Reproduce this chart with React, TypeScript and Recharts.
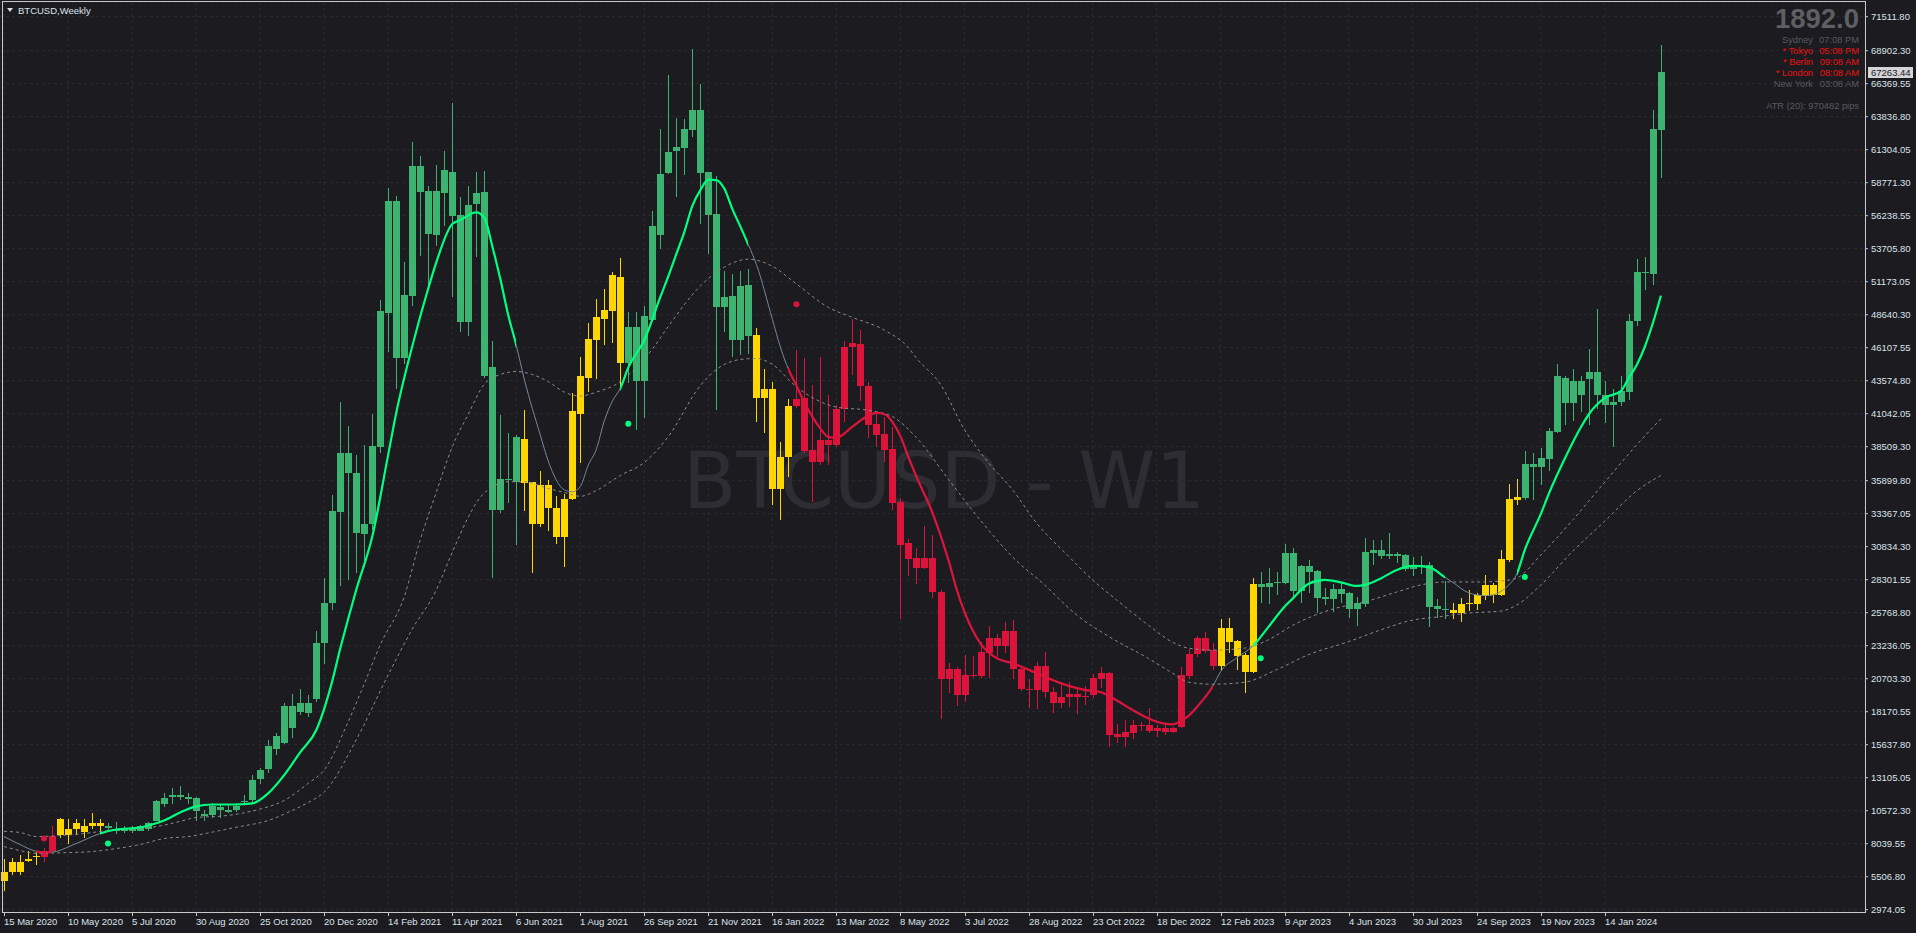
import React from "react";
import { ComposedChart, Bar, Line, XAxis, YAxis, CartesianGrid, ReferenceLine } from "recharts";

const W = 1916;
const H = 933;

const dateLabels = [
  "15 Mar 2020", "10 May 2020", "5 Jul 2020", "30 Aug 2020", "25 Oct 2020", "20 Dec 2020",
  "14 Feb 2021", "11 Apr 2021", "6 Jun 2021", "1 Aug 2021", "26 Sep 2021", "21 Nov 2021",
  "16 Jan 2022", "13 Mar 2022", "8 May 2022", "3 Jul 2022", "28 Aug 2022", "23 Oct 2022",
  "18 Dec 2022", "12 Feb 2023", "9 Apr 2023", "4 Jun 2023", "30 Jul 2023", "24 Sep 2023",
  "19 Nov 2023", "14 Jan 2024",
];
const weeksPerLabel = 8;

const priceTicks = [
  2974.05, 5506.8, 8039.55, 10572.3, 13105.05, 15637.8, 18170.55, 20703.3, 23236.05, 25768.8,
  28301.55, 30834.3, 33367.05, 35899.8, 38509.3, 41042.05, 43574.8, 46107.55, 48640.3, 51173.05,
  53705.8, 56238.55, 58771.3, 61304.05, 63836.8, 66369.55, 68902.3, 71511.8,
];
const priceDomain = [2797.5, 72640];

// weekly candles, 15 Mar 2020 .. 3 Mar 2024
const opens = [
  5150, 5900, 6650, 6680, 7100, 7050, 7510, 8740, 9200, 9130,
  9430, 9360, 9660, 9360, 9200, 9000, 9280, 9050, 9140, 9820,
  11060, 11590, 11800, 11650, 11580, 10200, 10210, 10820, 10440, 10590,
  11250, 11360, 12970, 13740, 15280, 15750, 18590, 18130, 18800, 19130,
  23430, 26500, 33510, 38050, 36510, 31820, 32590, 38510, 48740, 57360,
  45280, 50050, 60050, 58130, 54740, 57970, 59590, 56280, 48050, 57130,
  58050, 44660, 33670, 36050, 35820, 39130, 35820, 32590, 35590, 33820,
  31590, 34510, 41050, 43820, 46670, 48280, 48900, 51510, 44970, 47660,
  43590, 48200, 54740, 59510, 61200, 61430, 62820, 64360, 59590, 56360,
  49200, 50050, 46670, 50900, 47050, 42280, 42970, 35280, 37740, 41660,
  42280, 38280, 37360, 39050, 38670, 41440, 46130, 46360, 43130, 40280,
  39510, 38360, 34280, 31130, 29970, 29200, 29970, 27360, 20670, 21430,
  19430, 20970, 20900, 22670, 23820, 23200, 24360, 21430, 19900, 19820,
  21670, 19670, 18820, 19280, 19510, 19280, 19430, 20670, 21130, 16430,
  16200, 16510, 17130, 17130, 16670, 16900, 16600, 16970, 20900, 22590,
  23820, 22900, 21670, 24590, 23590, 22510, 21200, 27970, 27740, 28050,
  28050, 30360, 27430, 29360, 28970, 26970, 26820, 27590, 27280, 26050,
  26430, 30360, 30590, 30130, 30280, 30200, 29130, 29280, 29430, 26280,
  26050, 25970, 25740, 26430, 26430, 27050, 27900, 27130, 29820, 34430,
  34590, 37200, 36970, 37590, 39670, 43820, 41900, 43590, 43670, 44280,
  42510, 41740, 41970, 42740, 48130, 51900, 51740, 62820,
];
const highs = [
  6900, 6970, 7200, 7510, 7510, 7740, 9430, 10050, 9900, 9970,
  9900, 10360, 9970, 9590, 9740, 9430, 9430, 9510, 9740, 11430,
  11900, 12280, 12430, 11900, 11600, 10600, 11130, 11050, 11050, 11130,
  11740, 13280, 13820, 15970, 16510, 18820, 19510, 19900, 19430, 24360,
  28430, 34820, 41970, 40130, 37900, 38670, 41050, 49740, 58360, 57750,
  52660, 61900, 60820, 58510, 60130, 61200, 64900, 57660, 58510, 59590,
  59660, 46660, 40970, 39590, 39430, 41360, 35820, 36660, 35970, 34740,
  34900, 42660, 45360, 47970, 49820, 50590, 51900, 52970, 48820, 48820,
  49280, 56590, 62900, 67050, 63740, 63670, 69050, 66360, 59590, 59280,
  51970, 51740, 51970, 52130, 47590, 44510, 43510, 38900, 42200, 45900,
  45280, 43280, 45360, 42440, 41700, 46590, 48280, 47430, 43510, 41200,
  40820, 40050, 34590, 31430, 30740, 32430, 31740, 27510, 21900, 21590,
  22510, 22430, 23510, 24740, 24130, 25050, 25200, 21590, 20670, 21970,
  22740, 20050, 20430, 20430, 19970, 20130, 21050, 21590, 21200, 17200,
  17510, 17510, 17360, 18430, 17130, 17130, 16970, 21590, 22970, 23970,
  24280, 23430, 25280, 25360, 23670, 22670, 28430, 28900, 29200, 28900,
  31050, 30740, 29430, 29820, 29050, 27660, 27970, 28050, 27360, 26970,
  31510, 31360, 31360, 31900, 30450, 30300, 30050, 30150, 29660, 26850,
  28200, 26510, 26900, 27510, 27250, 28660, 28050, 30590, 35660, 36050,
  38200, 38050, 38430, 39970, 44820, 43970, 44510, 43900, 45970, 49050,
  43590, 42900, 43900, 48660, 52900, 53050, 64360, 69360,
];
const lows = [
  4400, 5600, 5670, 6650, 6440, 6670, 7500, 8510, 8050, 8670,
  8510, 9130, 8820, 8970, 8820, 8850, 8880, 9000, 9050, 9760,
  10820, 11050, 11430, 11080, 9750, 9820, 9980, 10050, 10360, 10510,
  10980, 11200, 12590, 13430, 14820, 15670, 16130, 17900, 17740, 18900,
  21820, 26000, 27800, 28300, 28820, 29300, 32100, 38050, 45740, 42900,
  44820, 49280, 53130, 50590, 53900, 55430, 49970, 47280, 46970, 53050,
  43820, 28430, 33440, 34200, 30970, 33590, 28820, 32360, 32050, 31050,
  29280, 34400, 37280, 42740, 43670, 46280, 46500, 43050, 43430, 39820,
  40740, 48130, 53670, 59430, 57670, 59360, 62280, 55590, 53280, 41360,
  47280, 45430, 45510, 45590, 40430, 39590, 34050, 32900, 36200, 41510,
  38050, 34280, 37130, 37130, 38510, 40430, 44000, 42050, 39200, 38510,
  37360, 33670, 25280, 28590, 27970, 29130, 26900, 17590, 19590, 18590,
  18900, 20740, 20740, 20740, 22360, 22670, 20670, 19750, 18430, 18360,
  19200, 18050, 18430, 18510, 17970, 18670, 19200, 19970, 15430, 15740,
  15430, 16050, 16670, 16510, 16230, 16360, 16550, 16900, 20660, 22360,
  22670, 21360, 21280, 22670, 21360, 19590, 21130, 26510, 26430, 27130,
  28000, 26970, 26510, 27280, 25740, 26360, 25820, 26510, 25360, 24740,
  26200, 29430, 29900, 29900, 29600, 28950, 28600, 28750, 24670, 25350,
  25280, 25280, 25050, 25900, 26000, 26740, 26510, 27050, 29660, 34050,
  34430, 34430, 35590, 36660, 39590, 40200, 40510, 41200, 40200, 41430,
  40360, 38510, 41670, 42130, 47740, 50510, 50900, 59130,
];
const closes = [
  5900, 6650, 5880, 6900, 7130, 7510, 8660, 9970, 8670, 9660,
  8900, 9660, 9360, 9210, 9000, 9150, 8980, 9360, 9590, 11350,
  11580, 11740, 11600, 11440, 10520, 10350, 10970, 10600, 10660, 10970,
  11300, 12900, 13660, 15510, 16280, 18590, 16900, 18820, 18060, 23430,
  26500, 33590, 38050, 36510, 31900, 32590, 38590, 48900, 57360, 45280,
  50130, 60050, 58050, 54820, 58130, 59740, 56200, 48050, 57050, 57970,
  43970, 33670, 36050, 36000, 39280, 35740, 32590, 35590, 33820, 31590,
  34510, 41280, 43900, 46740, 48430, 48970, 51660, 44970, 47660, 43590,
  48510, 55430, 59430, 61130, 61510, 62900, 64360, 59510, 56280, 49200,
  49970, 46670, 50820, 46970, 42280, 42970, 35280, 37740, 41660, 42200,
  38200, 37360, 39050, 38670, 41440, 46130, 46430, 43130, 40200, 39430,
  38280, 34200, 30970, 29900, 29200, 29970, 27360, 20670, 21430, 19430,
  20970, 20950, 22740, 23820, 23200, 24360, 21430, 19900, 19820, 21670,
  19670, 18820, 19280, 19510, 19280, 19360, 20740, 21130, 16360, 16200,
  16590, 17130, 17050, 16670, 16900, 16600, 16900, 20970, 22590, 23820,
  22820, 21670, 24590, 23510, 22430, 21200, 27970, 27740, 28050, 28130,
  30360, 27430, 29360, 28900, 26900, 26820, 27590, 27200, 26050, 26510,
  30430, 30590, 30130, 30280, 30130, 29130, 29280, 29430, 26200, 26050,
  25970, 25740, 26430, 26510, 27130, 27900, 27130, 29900, 34510, 34670,
  37200, 36970, 37670, 39740, 43900, 41900, 43590, 42510, 44280, 42510,
  41740, 41970, 42820, 48130, 51900, 51820, 62900, 67263.44,
];

// trend state of each candle: y = flat, g = up, r = down (run lengths)
const trendRuns: [string, number][] = [
  ["y", 5], ["r", 2], ["y", 6], ["g", 52], ["y", 13], ["g", 16],
  ["y", 5], ["r", 53], ["y", 5], ["g", 24], ["y", 9], ["g", 18],
];

// [bar index, value]
const maPoints = [
  [0, 8589], [2, 7974], [4, 7458], [5, 7383], [6, 7400], [9, 8050], [12, 8820], [14, 9128],
  [17, 9282], [18, 9435], [20, 9820], [22, 10435], [24, 10900], [26, 11050], [29, 11050],
  [31, 11128], [33, 11900], [35, 13300], [37, 15050], [39, 16743], [41, 20500], [42, 23000],
  [43, 25300], [44, 27512], [46, 31589], [48, 37900], [49, 41090], [51, 46204], [53, 50650],
  [54, 52640], [56, 55600], [57, 55900], [59, 56500], [60, 56100], [61, 53900], [62, 51400],
  [63, 48600], [64, 46300], [65, 43700], [67, 39400], [68, 37400], [70, 35200], [71, 35050],
  [72, 35450], [73, 37100], [74, 38300], [75, 40500], [76, 42000], [77, 43000], [78, 44600],
  [80, 46700], [82, 50000], [83, 51600], [84, 53300], [85, 55000], [86, 57000], [87, 58200],
  [88, 59000], [89, 58972], [90, 58300], [91, 56742], [92, 55400], [93, 54000], [94, 52500],
  [96, 48280], [97, 46150], [98, 44450], [99, 43200], [100, 41900], [101, 40800], [102, 39900],
  [103, 39250], [104, 39204], [106, 40050], [108, 40900], [109, 41100], [110, 41000],
  [111, 40400], [112, 39300], [113, 37700], [114, 36200], [116, 33436], [118, 29800],
  [119, 27600], [121, 24435], [122, 23400], [124, 22281], [126, 21897], [128, 21400],
  [130, 20850], [133, 20150], [135, 19850], [137, 19670], [139, 19050], [141, 18300],
  [143, 17650], [145, 17250], [146, 17200], [147, 17450], [148, 17850], [149, 18512],
  [151, 20100], [152, 21250], [154, 22300], [156, 23200], [158, 24700], [160, 26250],
  [161, 26850], [163, 28000], [165, 28281], [167, 28100], [169, 27820], [170, 27900],
  [172, 28400], [174, 29050], [176, 29358], [178, 29270], [180, 28500], [181, 28100],
  [183, 27290], [185, 27080], [186, 27127], [187, 27400], [188, 27900], [189, 28750],
  [190, 30600], [192, 33350], [193, 34900], [195, 37600], [197, 40000], [198, 41000],
  [200, 42250], [202, 42780], [203, 43800], [204, 44800], [205, 46200], [206, 48000],
  [207, 50100],
];
const upperPoints = [
  [0, 8989], [2, 8897], [4, 8589], [7, 8666], [10, 8820], [12, 8974], [15, 9128], [19, 9350],
  [22, 9750], [24, 10050], [27, 10150], [29, 10300], [32, 10700], [35, 11358], [38, 12666],
  [40, 13700], [43, 17400], [45, 20300], [47, 23300], [50, 27000], [52, 31358], [54, 35000],
  [56, 38500], [58, 41000], [60, 43300], [62, 44050], [64, 44280], [66, 44050], [68, 43500],
  [70, 42700], [72, 42400], [74, 42700], [77, 43500], [78, 44000], [81, 46000], [83, 47750],
  [87, 50850], [90, 52300], [93, 52900], [96, 52357], [99, 51000], [103, 49200], [106, 48434],
  [110, 47450], [113, 46100], [114, 45300], [117, 43300], [120, 39819], [123, 37281],
  [126, 35204], [129, 32650], [133, 30100], [136, 28281], [139, 26750], [143, 24800],
  [146, 23500], [148, 23050], [151, 22900], [155, 23050], [158, 23700], [161, 24800],
  [166, 26050], [170, 26600], [174, 27358], [177, 27900], [180, 28127], [184, 28127],
  [187, 28200], [189, 28435], [192, 30200], [196, 32900], [200, 35800], [204, 38665],
  [207, 40650],
];
const lowerPoints = [
  [0, 7820], [2, 7512], [4, 7305], [8, 7358], [11, 7435], [14, 7666], [17, 7974], [20, 8435],
  [23, 8589], [27, 9051], [29, 9300], [33, 9820], [36, 10589], [38, 11200], [40, 12000],
  [44, 16000], [48, 21000], [51, 24500], [54, 27500], [56, 30400], [58, 33100], [59, 34200],
  [61, 35435], [63, 35819], [65, 35819], [68, 35300], [70, 35000], [72, 34700], [74, 35150],
  [77, 36300], [80, 37300], [83, 39300], [87, 43200], [89, 44434], [92, 45204], [94, 45280],
  [96, 44819], [99, 43100], [104, 41550], [108, 41300], [111, 40819], [114, 39200],
  [118, 36000], [122, 32850], [126, 30050], [130, 27900], [134, 25600], [138, 23950],
  [143, 22250], [146, 21127], [148, 20435], [151, 20281], [155, 20435], [159, 21400],
  [163, 22550], [168, 23550], [172, 24450], [176, 25204], [179, 25435], [183, 25743],
  [187, 25897], [189, 26358], [192, 27900], [196, 30500], [200, 32800], [204, 35127],
  [207, 36300],
];
const buySignals = [[13, 8050], [78, 40280], [157, 22280], [190, 28512]];
const sellSignals = [[5, 8435], [99, 49434]];
const lastPrice = 67263.44;
const emptyBars = 25;

const candleColor: Record<string, string> = { g: "#3cb371", y: "#ffd700", r: "#dc143c" };
const maColor: Record<string, string> = { g: "#00ff7f", r: "#dc143c" };
const textFont = "'Liberation Sans', Arial, sans-serif";

const candleCount = opens.length;
const trendByBar: string[] = trendRuns.flatMap(([s, n]) => Array(n).fill(s));
const toMap = (pts: number[][]) => new Map(pts.map(([i, v]) => [i, v]));
const maMap = toMap(maPoints);
const upMap = toMap(upperPoints);
const loMap = toMap(lowerPoints);
const buyMap = toMap(buySignals);
const sellMap = toMap(sellSignals);

const rows = Array.from({ length: candleCount + emptyBars }, (_, i) => {
  const row: any = { idx: i };
  if (i < candleCount) {
    row.open = opens[i];
    row.high = highs[i];
    row.low = lows[i];
    row.close = closes[i];
    row.range = [lows[i], highs[i]];
    row.trend = trendByBar[i];
  }
  row.ma = maMap.get(i) ?? null;
  row.maTrend = row.ma;
  row.upper = upMap.get(i) ?? null;
  row.lower = loMap.get(i) ?? null;
  row.buy = buyMap.get(i) ?? null;
  row.sell = sellMap.get(i) ?? null;
  return row;
});

const tickIdx = dateLabels.map((_, k) => k * weeksPerLabel);
const labelByIdx = new Map(tickIdx.map((v, k) => [v, dateLabels[k]]));

// gradient stops so the thick MA only shows where the trend is up or down
const lastIdx = candleCount - 1;
const gradStops: { offset: number; color: string; opacity: number }[] = [];
{
  let start = 0;
  for (const [s, n] of trendRuns) {
    const a = Math.max(0, start - 1) / lastIdx;
    const b = (start + n - 1) / lastIdx;
    const color = maColor[s] ?? "#000000";
    const opacity = maColor[s] ? 1 : 0;
    gradStops.push({ offset: a, color, opacity }, { offset: b, color, opacity });
    start += n;
  }
}

function Candle(props: any) {
  const { x, width, payload } = props;
  let { y, height } = props;
  if (!payload || payload.open == null || y == null) return null;
  if (height < 0) {
    y += height;
    height = -height;
  }
  const { open, close, high, low, trend } = payload;
  const color = candleColor[trend];
  const k = high > low ? height / (high - low) : 0;
  const top = y + (high - Math.max(open, close)) * k;
  const bot = y + (high - Math.min(open, close)) * k;
  const bx = Math.round(x);
  const bw = Math.round(width);
  const bt = Math.round(top);
  const bh = Math.max(1, Math.round(bot) - bt);
  const wy = Math.round(y);
  return (
    <g>
      <rect x={bx + Math.floor(bw / 2)} y={wy} width={1} height={Math.max(1, Math.round(y + height) - wy)} fill={color} />
      <rect x={bx} y={bt} width={bw} height={bh} fill={color} />
    </g>
  );
}

function DateTick(props: any) {
  const { x, y, payload } = props;
  const label = labelByIdx.get(payload.value);
  if (!label) return null;
  const px = Math.round(x);
  return (
    <g>
      <line x1={px + 0.5} x2={px + 0.5} y1={y} y2={y + 4} stroke="#c8c8c8" />
      <text x={px} y={y + 13} fill="#dde4ec" fontSize={9.5} fontFamily={textFont}>
        {label}
      </text>
    </g>
  );
}

function PriceTag(props: any) {
  const vb = props.viewBox ?? props;
  const x = vb.x + vb.width;
  const y = Math.round(vb.y);
  return (
    <g>
      <rect x={x + 3} y={y - 5} width={45} height={11} fill="#d4d4d4" />
      <text x={x + 6} y={y + 4} fill="#202024" fontSize={9.5} fontFamily={textFont}>
        {lastPrice.toFixed(2)}
      </text>
    </g>
  );
}

const sessions = [
  { name: "Sydney", time: "07:08 PM", color: "#5a5a60" },
  { name: "* Tokyo", time: "05:08 PM", color: "#f01010" },
  { name: "* Berlin", time: "09:08 AM", color: "#f01010" },
  { name: "* London", time: "08:08 AM", color: "#f01010" },
  { name: "New York", time: "03:08 AM", color: "#5a5a60" },
];

export default function App() {
  return (
    <div style={{ position: "absolute", left: 0, top: 0, width: W, height: H, background: "#1b1b20", overflow: "hidden" }}>
      <svg width={W} height={H} style={{ position: "absolute", left: 0, top: 0 }}>
        <text x={944} y={508} textAnchor="middle" fill="#2d2d33" fontSize={78} fontFamily="'DejaVu Sans', sans-serif">
          BTCUSD - W1
        </text>
      </svg>
      <div style={{ position: "absolute", left: 0, top: 0 }}>
        <ComposedChart width={W} height={H} data={rows} margin={{ top: 2, right: 0, bottom: 0, left: 0 }}>
          <defs>
            <linearGradient id="maTrend" x1="0" y1="0" x2="1" y2="0">
              {gradStops.map((s, k) => (
                <stop key={k} offset={s.offset} stopColor={s.color} stopOpacity={s.opacity} />
              ))}
            </linearGradient>
          </defs>
          <CartesianGrid stroke="#2c2c33" strokeDasharray="3 3" />
          <XAxis
            dataKey="idx"
            type="category"
            ticks={tickIdx}
            interval={0}
            height={21}
            axisLine={false}
            tickLine={false}
            tickSize={0}
            tickMargin={0}
            tick={(p: any) => <DateTick {...p} />}
          />
          <YAxis
            orientation="right"
            type="number"
            width={51}
            domain={priceDomain}
            allowDataOverflow
            ticks={priceTicks}
            interval={0}
            axisLine={false}
            tickLine={{ stroke: "#c8c8c8" }}
            tickSize={3}
            tickMargin={3}
            tick={{ fill: "#dde4ec", fontSize: 9.5, fontFamily: textFont }}
            tickFormatter={(v: number) => v.toFixed(2)}
          />
          <Bar dataKey="range" barSize={7} isAnimationActive={false} shape={(p: any) => <Candle {...p} />} />
          <Line dataKey="upper" type="monotone" stroke="#8c8c8c" strokeWidth={1} strokeDasharray="3 3" dot={false} activeDot={false} connectNulls isAnimationActive={false} />
          <Line dataKey="lower" type="monotone" stroke="#8c8c8c" strokeWidth={1} strokeDasharray="3 3" dot={false} activeDot={false} connectNulls isAnimationActive={false} />
          <Line dataKey="ma" type="monotone" stroke="#778899" strokeWidth={1} dot={false} activeDot={false} connectNulls isAnimationActive={false} />
          <Line dataKey="maTrend" type="monotone" stroke="url(#maTrend)" strokeWidth={2.2} dot={false} activeDot={false} connectNulls isAnimationActive={false} />
          <Line dataKey="buy" stroke="none" dot={{ r: 3, fill: "#00ff7f", stroke: "none" }} activeDot={false} isAnimationActive={false} />
          <Line dataKey="sell" stroke="none" dot={{ r: 3, fill: "#dc143c", stroke: "none" }} activeDot={false} isAnimationActive={false} />
          <ReferenceLine y={lastPrice} stroke="none" strokeOpacity={0} label={<PriceTag />} />
        </ComposedChart>
      </div>
      <svg width={W} height={H} style={{ position: "absolute", left: 0, top: 0, pointerEvents: "none" }}>
        <rect x={2.5} y={1.5} width={1863} height={911} fill="none" stroke="#c8c8c8" />
        <polygon points="7,8 13,8 10,12" fill="#d8dde4" />
        <text x={18} y={14} fill="#dde4ec" fontSize={9.5} fontFamily={textFont}>
          BTCUSD,Weekly
        </text>
        <text x={1859} y={28} textAnchor="end" fill="#5e5e63" fontSize={27.5} fontWeight="bold" fontFamily={textFont}>
          1892.0
        </text>
        {sessions.map((s, k) => (
          <g key={s.name} fill={s.color} fontSize={9.3} fontFamily={textFont}>
            <text x={1813} y={42.5 + k * 11} textAnchor="end">{s.name}</text>
            <text x={1859} y={42.5 + k * 11} textAnchor="end">{s.time}</text>
          </g>
        ))}
        <text x={1859} y={109} textAnchor="end" fill="#5a5a60" fontSize={9.3} fontFamily={textFont}>
          ATR (20): 970482 pips
        </text>
      </svg>
    </div>
  );
}
